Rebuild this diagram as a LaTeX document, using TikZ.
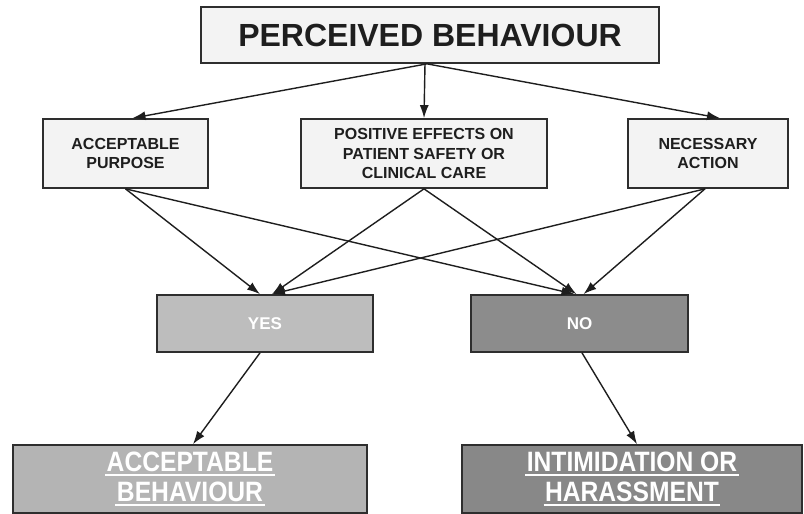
\documentclass[tikz,border=0pt]{standalone}
\usepackage{fontspec}
\setmainfont{Liberation Sans}
\newfontfamily\condfont[FakeStretch=0.88]{Liberation Sans}
\usetikzlibrary{arrows.meta,calc}
\definecolor{lightbox}{HTML}{F3F3F3}
\definecolor{yesgray}{HTML}{BDBDBD}
\definecolor{nogray}{HTML}{8C8C8C}
\definecolor{edge}{HTML}{2E2E2E}
\definecolor{ink}{HTML}{1E1E1E}
\tikzset{
  box/.style={draw=edge, line width=1.7pt, rectangle, inner sep=0pt, align=center, font=\bfseries, text=ink},
  critbox/.style={box, fill=lightbox, font=\fontsize{16}{19.5}\selectfont\bfseries},
  ansbox/.style={box, text=white, font=\fontsize{17}{19}\selectfont\bfseries},
  resbox/.style={box, text=white, font=\condfont\fontsize{28}{30}\selectfont\bfseries},
  conn/.style={draw=ink, line width=1.4pt, -{Latex[length=13pt,width=9pt]}}
}
\newcommand\wul[1]{\setbox0\hbox{#1}\leavevmode\rlap{\hbox to \wd0{\hss\raisebox{-5pt}{\rule{\dimexpr\wd0+3pt\relax}{2pt}}\hss}}\box0}
\begin{document}
\begin{tikzpicture}[x=1pt,y=-1pt]
\useasboundingbox (0,0) rectangle (804,514);
\node[box, fill=lightbox, minimum width=458pt, minimum height=56pt, font=\fontsize{32}{36}\selectfont\bfseries] (top) at (430,35) {PERCEIVED BEHAVIOUR};
\node[critbox, minimum width=165pt, minimum height=69pt] (ap) at (125.5,153.5) {ACCEPTABLE\\PURPOSE};
\node[critbox, minimum width=246pt, minimum height=69pt] (pe) at (424,153.5) {POSITIVE EFFECTS ON\\PATIENT\ SAFETY OR\\CLINICAL CARE};
\node[critbox, minimum width=160pt, minimum height=69pt] (na) at (708,153.5) {NECESSARY\\ACTION};
\node[ansbox, fill=yesgray, minimum width=216pt, minimum height=57pt] (yes) at (265,323.5) {YES};
\node[ansbox, fill=nogray, minimum width=217pt, minimum height=57pt] (no) at (579.5,323.5) {NO};
\node[resbox, fill=yesgray!95!black, minimum width=354pt, minimum height=68pt] (ab) at (190,479) {\wul{ACCEPTABLE}\\\wul{BEHAVIOUR}};
\node[resbox, fill=nogray!97!black, minimum width=340pt, minimum height=68pt] (ih) at (632,479) {\wul{INTIMIDATION OR}\\\wul{HARASSMENT}};
% top arrows
\draw[conn] ($(top.south)+(-3,0)$) -- ($(ap.north)+(7,0)$);
\draw[conn] ($(top.south)+(-5,0)$) -- (pe.north);
\draw[conn] ($(top.south)+(-3,0)$) -- ($(na.north)+(12,0)$);
% to yes / no
\draw[conn] (ap.south) -- ($(yes.north)+(-5,0)$);
\draw[conn] (ap.south) -- ($(no.north)+(-5,0)$);
\draw[conn] (pe.south) -- ($(yes.north)+(7,0)$);
\draw[conn] (pe.south) -- ($(no.north)+(-3,0)$);
\draw[conn] ($(na.south)+(-3,0)$) -- ($(yes.north)+(7,0)$);
\draw[conn] ($(na.south)+(-3,0)$) -- ($(no.north)+(4,0)$);
% results
\draw[conn] ($(yes.south)+(-5,0)$) -- ($(ab.north)+(3,0)$);
\draw[conn] ($(no.south)+(2.5,0)$) -- ($(ih.north)+(5,0)$);
\end{tikzpicture}
\end{document}
